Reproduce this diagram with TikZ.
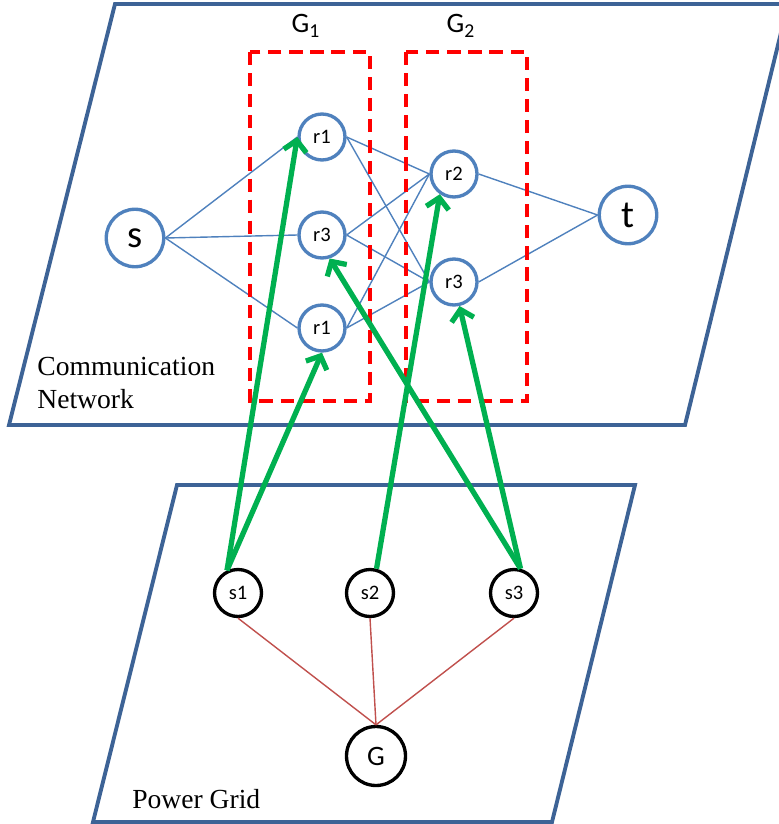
\documentclass[tikz,border=0pt]{standalone}
\usepackage{fontspec}
\setmainfont{Liberation Serif}
\setsansfont{Carlito}
\usetikzlibrary{arrows.meta}
\definecolor{planbleu}{HTML}{3D6396}
\definecolor{noeudbleu}{HTML}{4F81BD}
\definecolor{lienrouge}{HTML}{C0504D}
\definecolor{vert}{HTML}{00B050}

\begin{document}
\begin{tikzpicture}[x=0.02cm,y=-0.02cm]
 % definition des styles
  \tikzstyle{plan}=[draw=planbleu,line width=2.2pt,line join=miter]
  \tikzstyle{routeur}=[circle,draw=noeudbleu,line width=1.9pt,fill=white,inner sep=0pt,minimum size=0.92cm,font=\sffamily\fontsize{11.7}{13}\selectfont]
  \tikzstyle{extremite}=[routeur,minimum size=1.15cm,font=\sffamily\fontsize{22}{24}\selectfont]
  \tikzstyle{poste}=[circle,draw=black,line width=1.9pt,fill=white,inner sep=0pt,minimum size=0.94cm,font=\sffamily\fontsize{11.7}{13}\selectfont]
  \tikzstyle{lien}=[draw=noeudbleu,line width=0.8pt]
  \tikzstyle{cable}=[draw=lienrouge,line width=0.8pt]
  \tikzstyle{groupe}=[draw=red,line width=2pt,dash pattern=on 7.5pt off 4.5pt]
  \tikzstyle{alim}=[draw=vert,line width=3pt,-{Straight Barb[length=6pt,width=13pt]}]
  \tikzstyle{titre}=[font=\fontsize{15.7}{18.7}\selectfont,inner sep=0pt]
  \useasboundingbox (0,0) rectangle (778,824);
 % les plans
  \draw[plan] (115,4) -- (788,4) -- (685,425) -- (9,425) -- cycle;
  \draw[plan] (177,485) -- (635,485) -- (552,822) -- (93,822) -- cycle;
  \node[titre,anchor=base west,align=left] (reseau) at (37,408) {Communication\\Network};
  \node[titre,anchor=base west] (grille) at (132,808) {Power Grid};
 % les neuds
  \node[extremite] (s) at (135,238) {s};
  \node[routeur] (r1a) at (322,137) {r1};
  \node[routeur] (r3a) at (322,235) {r3};
  \node[routeur] (r1b) at (322,328) {r1};
  \node[routeur] (r2) at (454,174) {r2};
  \node[routeur] (r3b) at (454,282) {r3};
  \node[extremite] (t) at (628,215) {t};
  \node[poste] (s1) at (238,593) {s1};
  \node[poste] (s2) at (370,593) {s2};
  \node[poste] (s3) at (514,593) {s3};
  \node[poste,minimum size=1.18cm,font=\sffamily\fontsize{16}{18}\selectfont] (G) at (376,756) {G};
 % les liens
  \draw[lien] (s.east)--(r1a.west);  \draw[lien] (s.east)--(r3a.west);  \draw[lien] (s.east)--(r1b.west);
  \draw[lien] (r1a.east)--(r2.west);  \draw[lien] (r1a.east)--(r3b.west);
  \draw[lien] (r3a.east)--(r2.west);  \draw[lien] (r3a.east)--(r3b.west);
  \draw[lien] (r1b.east)--(r2.west);  \draw[lien] (r1b.east)--(r3b.west);
  \draw[lien] (r2.east)--(t.west);  \draw[lien] (r3b.east)--(t.west);
  \draw[cable] (s1.south)--(G.north);  \draw[cable] (s2.south)--(G.north);  \draw[cable] (s3.south)--(G.north);
 % les groupes
  \draw[groupe] (250,52) rectangle (370,401);
  \draw[groupe] (406,52) rectangle (527,401);
  \node[font=\sffamily\fontsize{16}{18}\selectfont,anchor=base] (g1) at (306,33) {G\textsubscript{1}};
  \node[font=\sffamily\fontsize{16}{18}\selectfont,anchor=base] (g2) at (461,33) {G\textsubscript{2}};
 % les fleches
  \draw[alim] (s1.116)--(r1a.180);  \draw[alim] (s1.116)--(r1b.south);
  \draw[alim] (s2.75)--(r2.235);
  \draw[alim] (s3.75)--(r3a.-72);  \draw[alim] (s3.75)--(r3b.-77);
\end{tikzpicture}
\end{document}
